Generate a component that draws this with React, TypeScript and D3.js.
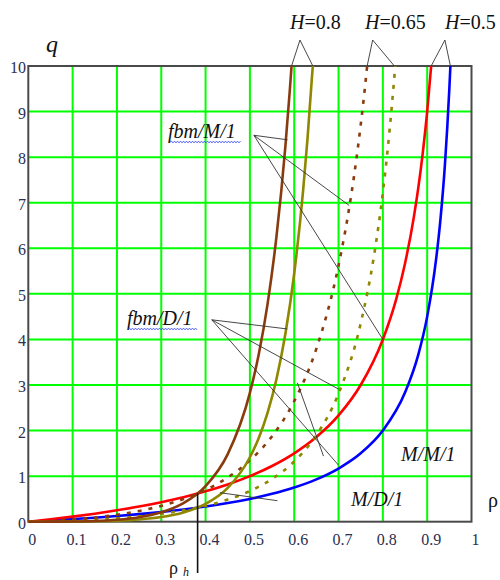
import React from "react";
import * as d3 from "d3";

// rho values / q values
const mm1: [number, number][] = [[0,0],[0.05,0.0526],[0.1,0.111],[0.15,0.176],[0.2,0.25],[0.25,0.333],[0.3,0.429],[0.35,0.538],[0.4,0.667],[0.45,0.818],[0.5,1.0],[0.55,1.222],[0.6,1.5],[0.65,1.857],[0.7,2.333],[0.75,3.0],[0.8,4.0],[0.83,4.88],[0.85,5.667],[0.87,6.69],[0.88,7.33],[0.89,8.09],[0.9,9.0],[0.909,10]];
const md1: [number, number][] = [[0,0],[0.05,0.026],[0.1,0.056],[0.15,0.088],[0.2,0.125],[0.25,0.167],[0.3,0.214],[0.35,0.269],[0.4,0.333],[0.45,0.409],[0.5,0.5],[0.55,0.611],[0.6,0.75],[0.65,0.929],[0.7,1.167],[0.75,1.5],[0.8,2.0],[0.85,2.833],[0.88,3.667],[0.9,4.5],[0.92,5.75],[0.93,6.64],[0.94,7.83],[0.95,9.5],[0.9524,10]];
const fbmM1H08: [number, number][] = [[0,0],[0.05,0.0007],[0.1,0.0048],[0.15,0.0167],[0.2,0.0437],[0.25,0.0988],[0.3,0.205],[0.35,0.406],[0.4,0.781],[0.45,1.484],[0.5,2.828],[0.52,3.674],[0.54,4.786],[0.56,6.261],[0.58,8.233],[0.59,9.462],[0.594,10]];
const fbmD1H08: [number, number][] = [[0,0],[0.05,0.0003],[0.1,0.0024],[0.15,0.0084],[0.2,0.0218],[0.25,0.0494],[0.3,0.103],[0.35,0.203],[0.4,0.39],[0.45,0.742],[0.5,1.414],[0.52,1.837],[0.54,2.393],[0.56,3.131],[0.58,4.117],[0.6,5.446],[0.62,7.258],[0.63,8.404],[0.64,9.755],[0.642,10]];
const fbmM1H065: [number, number][] = [[0,0],[0.05,0.0152],[0.1,0.0453],[0.15,0.09],[0.2,0.152],[0.25,0.235],[0.3,0.347],[0.35,0.497],[0.4,0.698],[0.45,0.97],[0.5,1.346],[0.55,1.876],[0.6,2.643],[0.65,3.797],[0.7,5.621],[0.72,6.652],[0.74,7.938],[0.76,9.568],[0.7646,10]];
const fbmD1H065: [number, number][] = [[0,0],[0.05,0.0076],[0.1,0.0227],[0.15,0.045],[0.2,0.076],[0.25,0.118],[0.3,0.174],[0.35,0.248],[0.4,0.349],[0.45,0.485],[0.5,0.673],[0.55,0.938],[0.6,1.322],[0.65,1.899],[0.7,2.81],[0.75,4.352],[0.78,5.835],[0.8,7.223],[0.81,8.086],[0.82,9.098],[0.828,10]];

const xTicks = [0, 0.1, 0.2, 0.3, 0.4, 0.5, 0.6, 0.7, 0.8, 0.9, 1];
const xTickLabels = ["0", "0.1", "0.2", "0.3", "0.4", "0.5", "0.6", "0.7", "0.8", "0.9", "1"];
const yTicks = [0, 1, 2, 3, 4, 5, 6, 7, 8, 9, 10];

// annotation pointer lines (data units): [apex, target]
const pointerLines: [[number, number], [number, number]][] = [
  [[0.613, 10.57], [0.594, 10]],
  [[0.613, 10.57], [0.642, 10]],
  [[0.777, 10.57], [0.7646, 10]],
  [[0.777, 10.57], [0.826, 10]],
  [[0.94, 10.57], [0.909, 10]],
  [[0.94, 10.57], [0.9524, 10]],
  [[0.509, 8.48], [0.585, 8.38]],
  [[0.509, 8.48], [0.724, 6.94]],
  [[0.509, 8.48], [0.8, 4.0]],
  [[0.414, 4.43], [0.584, 4.23]],
  [[0.414, 4.43], [0.7, 2.91]],
  [[0.414, 4.43], [0.7, 1.24]],
  [[0.607, 3.05], [0.666, 1.44]],
  [[0.4325, 0.636], [0.562, 0.461]],
];
const rhoH = 0.382;
const qH = 0.618;

const BROWN = "#8a3b0d";
const OLIVE = "#8f8700";
const FONT = "Liberation Serif, DejaVu Serif, serif";

export default function App() {
  const x = d3.scaleLinear().domain([0, 1]).range([28.3, 471.5]);
  const y = d3.scaleLinear().domain([0, 10]).range([521.7, 66]);
  const line = d3
    .line<[number, number]>()
    .x((d) => x(d[0]))
    .y((d) => y(d[1]))
    .curve(d3.curveMonotoneX);

  const wavy = (x1: number, x2: number, yy: number) => {
    let p = `M${x1},${yy}`;
    let up = true;
    for (let xx = x1 + 1.5; xx <= x2; xx += 1.5) {
      p += ` L${xx},${yy + (up ? -0.9 : 0.9)}`;
      up = !up;
    }
    return p;
  };

  const series = [
    { d: md1, c: "#0000ff", dash: undefined },
    { d: mm1, c: "#ff0000", dash: undefined },
    { d: fbmD1H065, c: OLIVE, dash: "4,7" },
    { d: fbmM1H065, c: BROWN, dash: "4,7" },
    { d: fbmD1H08, c: OLIVE, dash: undefined },
    { d: fbmM1H08, c: BROWN, dash: undefined },
  ];

  const tickColor = "#2a3050";

  return (
    <svg
      width={500}
      height={580}
      style={{ position: "absolute", left: 0, top: 0, background: "#fff", fontFamily: FONT }}
    >
      <rect x={0} y={0} width={500} height={580} fill="#fff" />
      {/* grid */}
      {xTicks.slice(1, -1).map((t) => (
        <line key={"gx" + t} x1={x(t)} x2={x(t)} y1={y(0)} y2={y(10)} stroke="#00ff00" strokeWidth={2} />
      ))}
      {yTicks.slice(1, -1).map((t) => (
        <line key={"gy" + t} x1={x(0)} x2={x(1)} y1={y(t)} y2={y(t)} stroke="#00ff00" strokeWidth={2} />
      ))}
      {/* frame */}
      <rect x={x(0)} y={y(10)} width={x(1) - x(0)} height={y(0) - y(10)} fill="none" stroke="#4a4a4a" strokeWidth={2} />

      {/* curves */}
      {series.map((s, i) => (
        <path key={i} d={line(s.d) || ""} fill="none" stroke={s.c} strokeWidth={2.6} strokeDasharray={s.dash} />
      ))}

      {/* pointer lines */}
      {pointerLines.map((l, i) => (
        <line key={"pl" + i} x1={x(l[0][0])} y1={y(l[0][1])} x2={x(l[1][0])} y2={y(l[1][1])} stroke="#333" strokeWidth={0.9} />
      ))}
      <line x1={x(rhoH)} y1={y(qH)} x2={x(rhoH)} y2={573} stroke="#111" strokeWidth={1.6} />

      {/* tick labels */}
      {yTicks.map((t) => (
        <text key={"yt" + t} x={26} y={y(t) + 7} textAnchor="end" fontSize={16} fill={tickColor} fontFamily={FONT}>
          {String(t)}
        </text>
      ))}
      {xTicks.map((t, i) => (
        <text key={"xt" + t} x={x(t) + 4} y={545} textAnchor="middle" fontSize={16} fill={tickColor} fontFamily={FONT}>
          {xTickLabels[i]}
        </text>
      ))}

      {/* axis labels */}
      <text x={46} y={52} fontSize={24} fontStyle="italic" fill="#111" fontFamily={FONT}>q</text>
      <text x={488} y={507} fontSize={20} fill="#111" fontFamily={FONT}>ρ</text>
      <text x={169} y={574} fontSize={18} fill="#111" fontFamily={FONT}>ρ</text>
      <text x={183} y={576} fontSize={12} fontStyle="italic" fill="#111" fontFamily={FONT}>h</text>

      {/* H labels */}
      <text x={290} y={29} fontSize={20} fill="#111" fontFamily={FONT}><tspan fontStyle="italic">H</tspan>=0.8</text>
      <text x={365} y={29} fontSize={20} fill="#111" fontFamily={FONT}><tspan fontStyle="italic">H</tspan>=0.65</text>
      <text x={445} y={29} fontSize={20} fill="#111" fontFamily={FONT}><tspan fontStyle="italic">H</tspan>=0.5</text>

      {/* model labels */}
      <text x={168} y={138} fontSize={20} fontStyle="italic" fill="#111" fontFamily={FONT}>fbm/M/1</text>
      <path d={wavy(170, 241, 142)} fill="none" stroke="#3040ff" strokeWidth={0.8} />
      <text x={127} y={325} fontSize={20} fontStyle="italic" fill="#111" fontFamily={FONT}>fbm/D/1</text>
      <path d={wavy(128, 198, 329)} fill="none" stroke="#3040ff" strokeWidth={0.8} />
      <text x={401} y={461} fontSize={20} fontStyle="italic" fill="#111" fontFamily={FONT}>M/M/1</text>
      <text x={351} y={506} fontSize={20} fontStyle="italic" fill="#111" fontFamily={FONT}>M/D/1</text>
    </svg>
  );
}
